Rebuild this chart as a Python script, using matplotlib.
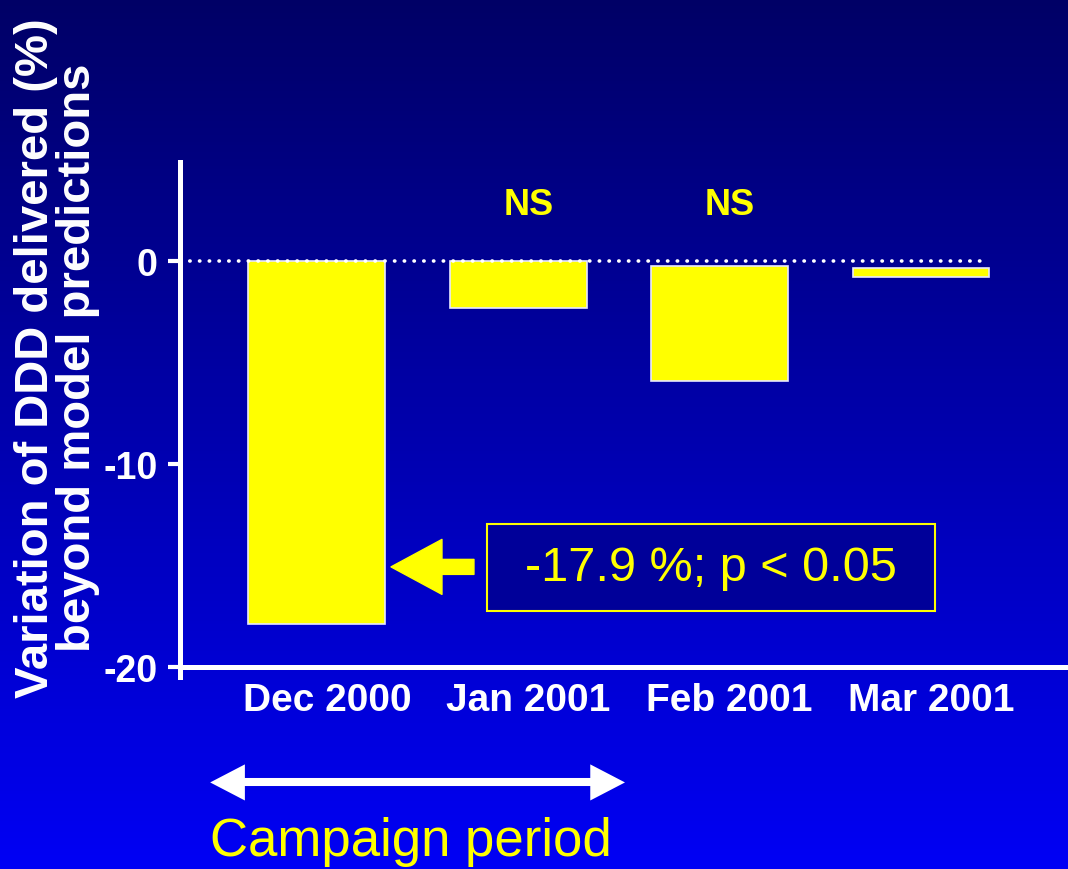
import numpy as np
import matplotlib
matplotlib.use("Agg")
import matplotlib.pyplot as plt
from matplotlib.patches import Rectangle, FancyArrowPatch

plt.rcParams['font.family'] = ['Liberation Sans', 'DejaVu Sans']

# data
months = ["Dec 2000", "Jan 2001", "Feb 2001", "Mar 2001"]
variation = [-17.9, -2.3, -5.9, -0.77]
bar_top = [0.0, 0.0, -0.25, -0.35]   # bars as drawn on the slide
signif = ["", "NS", "NS", ""]
note = "-17.9 %; p < 0.05"

YELLOW = "#FFFF00"

fig = plt.figure(figsize=(10.68, 8.7), dpi=100)

# gradient background
bg = fig.add_axes([0, 0, 1, 1], zorder=-10)
grad = np.linspace(0.40, 0.96, 256).reshape(-1, 1)
img = np.zeros((256, 1, 3))
img[:, :, 2] = grad
bg.imshow(img, aspect="auto", extent=[0, 1, 0, 1], origin="upper")
bg.axis("off")

ax = fig.add_axes([0.1685, 0.2207, 0.8315, 0.592])
ax.patch.set_alpha(0)

x = np.arange(len(months))
heights = [v - t for v, t in zip(variation, bar_top)]
ax.bar(x, heights, bottom=bar_top, width=0.68, color=YELLOW,
       edgecolor="#E8E8FF", linewidth=1.2, zorder=3)

ax.set_xlim(-0.68, 3.73)
ax.set_ylim(-20.5, 4.9)

# dotted zero line
ax.plot([-0.68, x[-1] + 0.34], [0, 0], color="white", linestyle=(0, (0.1, 2.6)),
        linewidth=2.6, dash_capstyle="round", zorder=4)

for xi, s in zip(x, signif):
    if s:
        ax.text(xi + 0.05, 2.8, s, color=YELLOW, fontsize=26, fontweight="bold",
                ha="center", va="center")

# spines / ticks
for side in ["top", "right"]:
    ax.spines[side].set_visible(False)
ax.spines["left"].set_color("white")
ax.spines["left"].set_linewidth(3.6)
ax.spines["bottom"].set_color("white")
ax.spines["bottom"].set_linewidth(3.6)
ax.spines["bottom"].set_position(("data", -20))

ax.set_yticks([0, -10, -20])
ax.set_yticklabels(["0", "-10", "-20"])
ax.tick_params(axis="y", colors="white", labelsize=27, length=9, width=3, pad=7)
for lab in ax.get_yticklabels():
    lab.set_fontweight("bold")

ax.set_xticks(x + 0.05)
ax.set_xticklabels(months)
ax.tick_params(axis="x", colors="white", labelsize=28, length=0, pad=11)
for lab in ax.get_xticklabels():
    lab.set_fontweight("bold")

fig.text(0.0534, 0.5885, "Variation of DDD delivered (%)\nbeyond model predictions",
         rotation=90, ha="center", va="center", multialignment="center",
         color="white", fontsize=34, fontweight="bold", linespacing=0.95)

# annotation box + arrow
ax.add_patch(Rectangle((0.845, -17.24), 3.07 - 0.845, 4.28, facecolor="#000099",
                       edgecolor=YELLOW, linewidth=1.5, zorder=5))
ax.text((0.845 + 3.07) / 2, -15.1, note, color=YELLOW, fontsize=35,
        ha="center", va="center", zorder=6)
ax.add_patch(FancyArrowPatch((0.78, -15.07), (0.368, -15.07),
                             arrowstyle="simple,head_length=36.7,head_width=39.6,tail_width=10.8",
                             mutation_scale=1, color=YELLOW, shrinkA=0, shrinkB=0,
                             zorder=6))

# campaign period: shaft + two filled heads
left_end, right_end = -0.53, 1.53
ax.plot([left_end + 0.1, right_end - 0.1], [-25.7, -25.7], color="white",
        linewidth=5.8, solid_capstyle="butt", clip_on=False)
for start, end in ((left_end + 0.3, left_end), (right_end - 0.3, right_end)):
    ax.add_patch(FancyArrowPatch((start, -25.7), (end, -25.7),
                                 arrowstyle="-|>,head_length=25,head_width=13",
                                 mutation_scale=1, color="white", linewidth=0,
                                 shrinkA=0, shrinkB=0, clip_on=False))
ax.text(0.467, -28.6, "Campaign period", color=YELLOW, fontsize=38,
        ha="center", va="center", clip_on=False)

fig.savefig("out.png", dpi=100)
